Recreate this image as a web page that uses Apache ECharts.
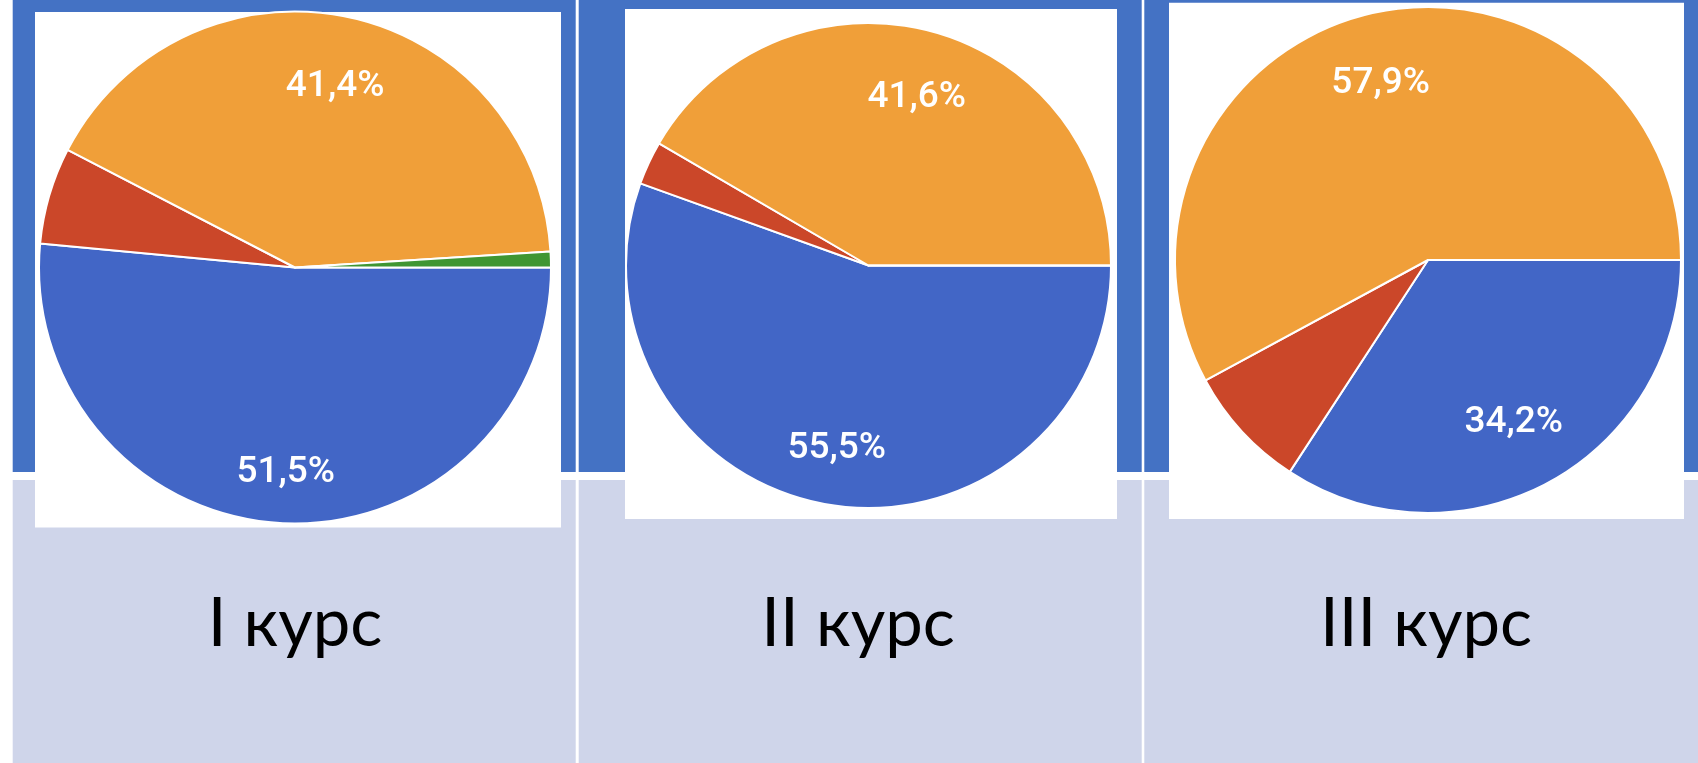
<!DOCTYPE html>
<html>
<head>
<meta charset="utf-8">
<script src="https://cdn.jsdelivr.net/npm/echarts@6.0.0/dist/echarts.min.js"></script>
<style>
html,body{margin:0;padding:0;background:#fff;}
#chart{width:1698px;height:763px;}
</style>
</head>
<body>
<div id="chart"></div>
<script>
// ---- data ----
const courseTitles = ['I курс', 'II курс', 'III курс'];
const answerNames = ['Вариант 1', 'Вариант 2', 'Вариант 3', 'Вариант 4'];
const course1Values = [51.5, 6.1, 41.4, 1.0];
const course2Values = [55.5, 2.9, 41.6, 0];
const course3Values = [34.2, 7.9, 57.9, 0];
const allValues = [course1Values, course2Values, course3Values];

// ---- styles / layout ----
const sliceColors = ['#4266C6', '#CB4729', '#F09F39', '#3F9632'];
const stripBlue = '#4472C4';
const lavender = '#CFD5EA';
const columns = [
  {x0: 12.7, x1: 575.7, box: [35, 12, 561, 527.5], center: [295, 267.5], r: 256, tx: 295},
  {x0: 578.7, x1: 1141.7, box: [625, 9, 1117, 519], center: [868.5, 265.5], r: 242.5, tx: 858},
  {x0: 1144.3, x1: 1698, box: [1169, 2.7, 1684, 519], center: [1428, 260], r: 253, tx: 1426}
];
// small label nudges [dx, dy] per pie and slice (styling only)
const labelNudges = [
  [[0, 10], [0, 0], [0, 10], [0, 0]],
  [[0, 1], [0, 0], [0, 11], [0, 0]],
  [[-6, -7], [0, 0], [0, 11], [0, 0]]
];

const fmt = v => v.toFixed(1).replace('.', ',') + '%';

const graphic = [];
columns.forEach((c) => {
  graphic.push({type: 'rect', shape: {x: c.x0, y: 0, width: c.x1 - c.x0, height: 472}, style: {fill: stripBlue}, z: 0});
  graphic.push({type: 'rect', shape: {x: c.x0, y: 480, width: c.x1 - c.x0, height: 283}, style: {fill: lavender}, z: 0});
});
columns.forEach((c, i) => {
  graphic.push({type: 'rect', shape: {x: c.box[0], y: c.box[1], width: c.box[2] - c.box[0], height: c.box[3] - c.box[1]}, style: {fill: '#ffffff'}, z: 1});
  graphic.push({type: 'text', x: c.tx, y: 624, z: 2, style: {text: courseTitles[i], fill: '#000000', font: '67px Lato', align: 'center', verticalAlign: 'middle'}});
});

const series = [];
columns.forEach((c, i) => {
  const data = allValues[i].map((v, k) => ({name: answerNames[k], value: v, itemStyle: {color: sliceColors[k]}}));
  series.push({
    type: 'pie', center: c.center, radius: [0, c.r], startAngle: 0, clockwise: true,
    silent: true, animation: false, minAngle: 0,
    itemStyle: {borderColor: '#ffffff', borderWidth: 2},
    label: {show: false}, labelLine: {show: false},
    emphasis: {disabled: true},
    data: data
  });
  series.push({
    type: 'pie', center: c.center, radius: [c.r * 0.5, c.r], startAngle: 0, clockwise: true,
    silent: true, animation: false, z: 5,
    itemStyle: {color: 'rgba(0,0,0,0)', borderWidth: 0},
    label: {
      show: true, position: 'inside', color: '#ffffff',
      fontFamily: 'Roboto', fontSize: 37, fontWeight: 500,
      formatter: p => (p.value >= 15 ? fmt(p.value) : '')
    },
    labelLayout: p => ({dx: labelNudges[i][p.dataIndex][0], dy: labelNudges[i][p.dataIndex][1]}),
    labelLine: {show: false},
    emphasis: {disabled: true},
    data: allValues[i].map((v, k) => ({name: answerNames[k], value: v}))
  });
});

const chart = echarts.init(document.getElementById('chart'), null, {renderer: 'canvas'});
chart.setOption({
  backgroundColor: '#ffffff',
  animation: false,
  graphic: graphic,
  series: series
});
</script>
</body>
</html>
